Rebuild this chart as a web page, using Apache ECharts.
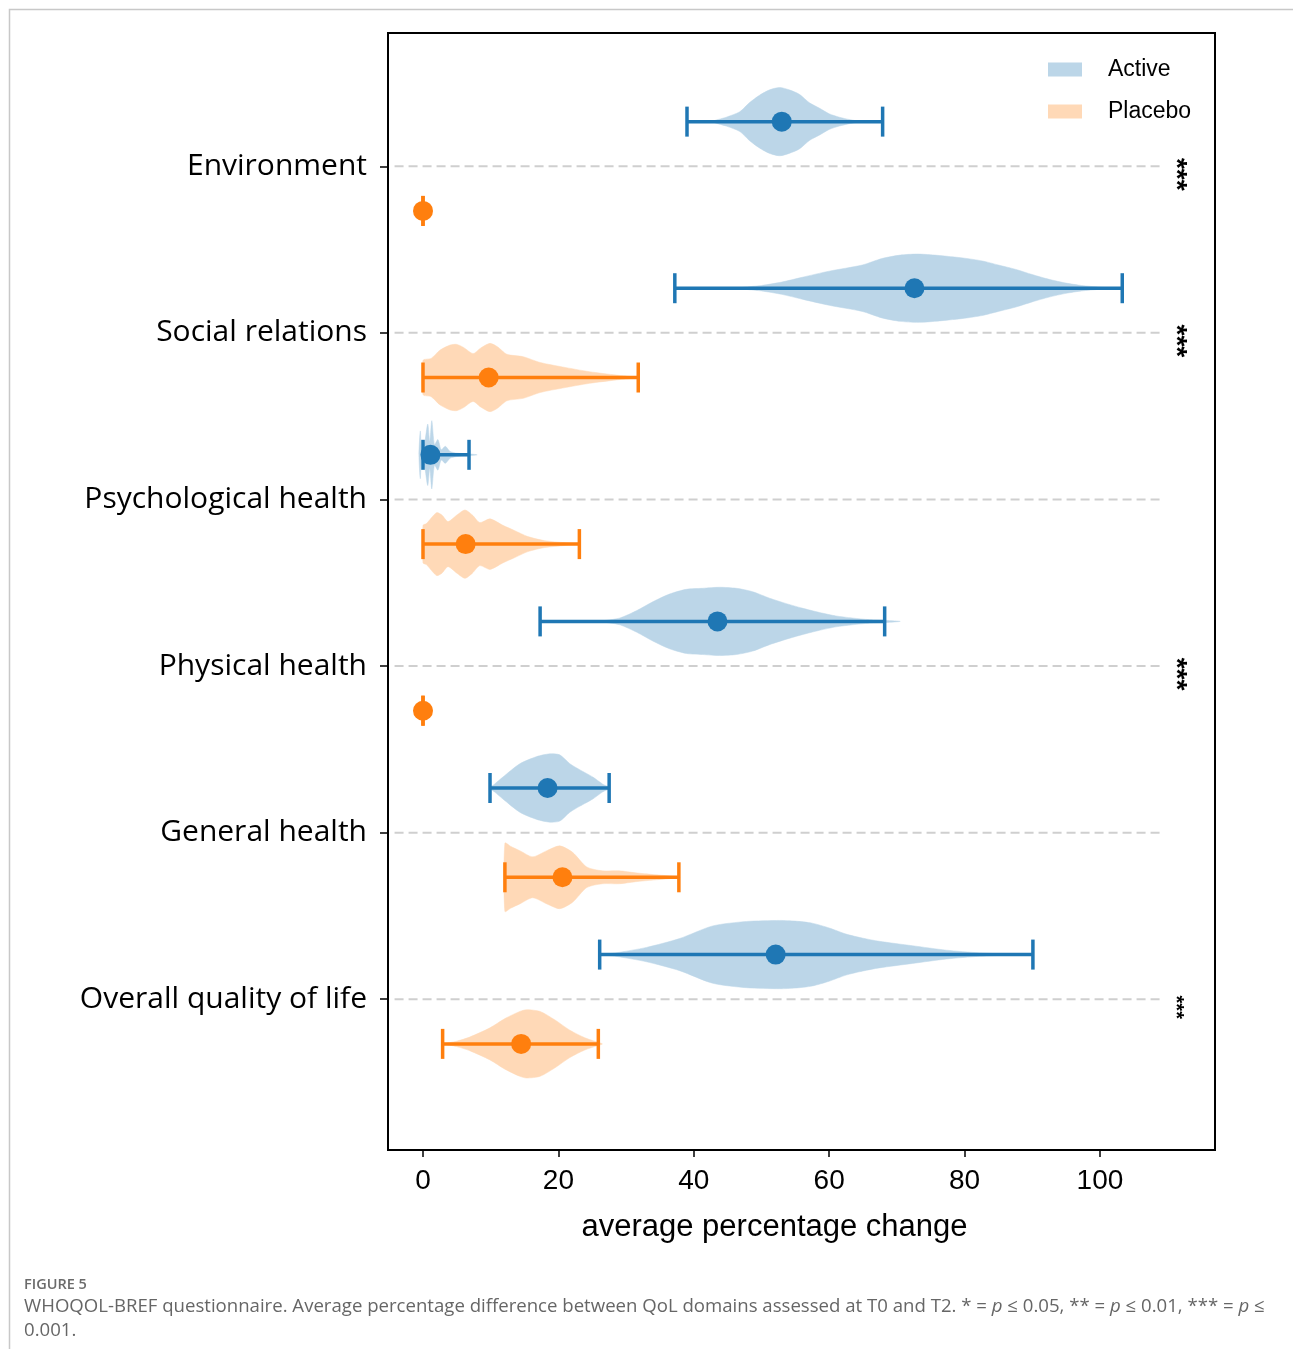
<!DOCTYPE html>
<html>
<head>
<meta charset="utf-8">
<script src="https://cdn.jsdelivr.net/npm/echarts@6/dist/echarts.min.js"></script>
<style>
html,body{margin:0;padding:0;background:#fff;}
#chart{width:1293px;height:1349px;}
</style>
</head>
<body>
<div id="chart"></div>
<script>
// ---------- data ----------
const categories = ['Environment', 'Social relations', 'Psychological health', 'Physical health', 'General health', 'Overall quality of life'];
const xTicks = [0, 20, 40, 60, 80, 100];

const activeMean = [53.0, 72.6, 1.1, 43.5, 18.4, 52.1];
const activeLow  = [39.0, 37.2, 0.0, 17.3, 9.9, 26.1];
const activeHigh = [67.9, 103.3, 6.8, 68.2, 27.5, 90.1];

const placeboMean = [0.0, 9.7, 6.3, 0.0, 20.6, 14.5];
const placeboLow  = [0.0, 0.0, 0.0, 0.0, 12.1, 2.9];
const placeboHigh = [0.0, 31.8, 23.1, 0.0, 37.8, 25.9];

const significance = ['***', '***', '', '***', '', '***'];

// violin outlines: [value, relative density]
const activeEnv = [[42.8,0],[44.8,0.13],[46.8,0.29],[48.2,0.55],[49.7,0.77],[51.2,0.93],[52.7,1.0],[54.1,0.93],[55.6,0.8],[57.1,0.55],[58.6,0.39],[60,0.23],[61.5,0.13],[63,0.06],[64.5,0]];
const activeSocial = [[46.5,0],[50,0.08],[53,0.18],[56,0.32],[60,0.5],[64.9,0.68],[67.8,0.87],[70.5,0.97],[72.9,1.0],[75,0.98],[77.7,0.93],[80,0.88],[82.6,0.8],[85,0.68],[87.6,0.55],[90,0.4],[92.5,0.26],[95,0.15],[97.3,0.08],[100,0.03],[102,0]];
const activePsych = [[-0.6,0],[-0.4,0.7],[-0.2,0.15],[0.2,0.3],[0.7,0.9],[1.0,0.4],[1.3,1.0],[1.7,0.3],[2.2,0.45],[2.7,0.15],[3.3,0.25],[4,0.1],[5,0.05],[6.5,0.03],[8,0]];
const activePhysical = [[25.5,0],[27,0.03],[29.1,0.1],[31.6,0.32],[34,0.58],[36.4,0.8],[38.9,0.94],[41.3,0.97],[43.8,1.0],[46.3,0.97],[48.7,0.87],[51.2,0.68],[53.7,0.52],[56,0.39],[58.6,0.26],[61,0.16],[63.4,0.1],[66,0.05],[68.4,0.03],[70.5,0]];
const activeGeneral = [[9.9,0],[10.6,0.12],[11.8,0.32],[14.3,0.71],[16.8,0.92],[18.7,1.0],[20.2,0.97],[21.7,0.71],[23.2,0.53],[25.1,0.32],[26.5,0.12],[27.6,0]];
const activeOverall = [[26.4,0],[28.5,0.05],[33,0.21],[37.9,0.47],[42.8,0.84],[47.8,0.97],[52.7,1.0],[55,0.98],[57.5,0.92],[60,0.78],[62.5,0.6],[65,0.48],[67.4,0.39],[72.3,0.26],[77.3,0.13],[82.2,0.05],[87,0.01],[88,0]];

const placeboSocial = [[0,0.5],[1.2,0.56],[2.5,0.8],[4,0.95],[5,0.97],[6,0.88],[7.4,0.7],[8.5,0.86],[9.9,1.0],[11,0.9],[12.4,0.68],[14.8,0.61],[17.3,0.44],[20.6,0.31],[24.6,0.17],[28.6,0.07],[31.6,0]];
const placeboPsych = [[0,0.55],[0.5,0.6],[2,0.92],[2.8,0.85],[3.7,0.66],[5,0.85],[6.2,1.0],[7.3,0.85],[8.4,0.63],[9.9,0.74],[11.8,0.55],[13.5,0.4],[15.5,0.22],[18,0.1],[21,0.04],[23,0]];
const placeboGeneral = [[12.1,1.0],[13,0.9],[14.3,0.78],[16.2,0.6],[18.3,0.78],[20.2,0.92],[22.1,0.73],[24.2,0.3],[26.5,0.19],[29,0.19],[31.4,0.13],[34,0.08],[36.4,0.04],[38,0]];
const placeboOverall = [[3.2,0],[5,0.08],[6.9,0.2],[9.9,0.47],[12.1,0.74],[14.3,0.95],[15.3,1.0],[17.3,0.95],[19.5,0.7],[21.7,0.4],[23.9,0.18],[25.8,0.05],[26.5,0]];

const activeProfiles = [activeEnv, activeSocial, activePsych, activePhysical, activeGeneral, activeOverall];
const placeboProfiles = [null, placeboSocial, placeboPsych, null, placeboGeneral, placeboOverall];

// ---------- style ----------
const BLUE = '#1f77b4', ORANGE = '#ff7f0e';
const BLUE_FILL = '#bcd6e8', ORANGE_FILL = '#ffd9b7';
const OFFSET = 0.268;     // vertical offset of each group from its row
const HALF = 0.205;       // violin half height at density 1
const CAP = 15;           // cap half length, px
const FONT_TXT = 'Liberation Sans';

function violinRender(profiles, side, fill) {
  return function (params, api) {
    const i = api.value(0);
    const prof = profiles[i];
    if (!prof) return;
    const pos = i + side * OFFSET;
    const top = prof.map(p => api.coord([p[0], pos - p[1] * HALF]));
    const bottom = [];
    for (let k = prof.length - 1; k >= 0; k--) {
      const p = prof[k];
      if (p[1] === 0 && (k === 0 || k === prof.length - 1)) continue;
      bottom.push(api.coord([p[0], pos + p[1] * HALF]));
    }
    return {
      type: 'polygon',
      shape: { points: top.concat(bottom), smooth: 0.25 },
      style: { fill: fill, stroke: fill, lineWidth: 0.5 }
    };
  };
}

function errRender(mean, lo, hi, side, color) {
  return function (params, api) {
    const i = api.value(0);
    const pos = i + side * OFFSET;
    const a = api.coord([lo[i], pos]);
    const b = api.coord([hi[i], pos]);
    const m = api.coord([mean[i], pos]);
    const st = { stroke: color, lineWidth: 3.5 };
    return {
      type: 'group',
      children: [
        { type: 'line', shape: { x1: a[0], y1: a[1], x2: b[0], y2: b[1] }, style: st },
        { type: 'line', shape: { x1: a[0], y1: a[1] - CAP, x2: a[0], y2: a[1] + CAP }, style: st },
        { type: 'line', shape: { x1: b[0], y1: b[1] - CAP, x2: b[0], y2: b[1] + CAP }, style: st },
        { type: 'circle', shape: { cx: m[0], cy: m[1], r: 10 }, style: { fill: color } }
      ]
    };
  };
}

const rowData = categories.map((c, i) => [i]);

const chart = echarts.init(document.getElementById('chart'), null, { renderer: 'canvas' });
chart.setOption({
  backgroundColor: '#fff',
  animation: false,
  grid: { left: 388, right: 78, top: 33, bottom: 199, show: true, borderColor: '#000', borderWidth: 2, containLabel: false },
  legend: {
    left: 1048, top: 58, padding: 0, orient: 'vertical', itemWidth: 34, itemHeight: 14, itemGap: 19,
    textStyle: { fontFamily: FONT_TXT, fontSize: 23, color: '#000', padding: [0, 0, 0, 21] },
    data: [
      { name: 'Active', icon: 'rect', itemStyle: { color: BLUE_FILL } },
      { name: 'Placebo', icon: 'rect', itemStyle: { color: ORANGE_FILL } }
    ]
  },
  xAxis: {
    type: 'value', min: -5.17, max: 117, position: 'bottom',
    axisLine: { show: true, onZero: false, lineStyle: { color: '#000', width: 2 } },
    axisTick: { show: true, customValues: xTicks, length: 7, lineStyle: { color: '#000', width: 1.5 } },
    axisLabel: { customValues: xTicks, fontFamily: FONT_TXT, fontSize: 28, color: '#000', margin: 17 },
    splitLine: { show: false },
    name: 'average percentage change', nameLocation: 'middle', nameGap: 62,
    nameTextStyle: { fontFamily: FONT_TXT, fontSize: 31, color: '#000', padding: [0, 54, 0, 0] }
  },
  yAxis: {
    type: 'value', inverse: true, min: -0.8, max: 5.905, position: 'left',
    axisLine: { show: true, onZero: false, lineStyle: { color: '#000', width: 2 } },
    axisTick: { show: true, customValues: [0, 1, 2, 3, 4, 5], length: 8, lineStyle: { color: '#000', width: 1.5 } },
    axisLabel: {
      customValues: [0, 1, 2, 3, 4, 5],
      formatter: v => categories[Math.round(v)],
      fontFamily: 'Open Sans', fontSize: 30, color: '#000', margin: 21
    },
    splitLine: { show: false }
  },
  graphic: [
    { type: 'rect', left: 7, top: 7, shape: { width: 1285, height: 1350 }, style: { fill: 'none', stroke: '#c8c8c8', lineWidth: 1.5 }, silent: true },
    { type: 'text', left: 24, top: 1277, style: { text: 'FIGURE 5', fontFamily: 'Open Sans', fontSize: 14.5, fontWeight: 600, fill: '#6b6b6b' } },
    { type: 'text', left: 24, top: 1297, style: {
        text: 'WHOQOL-BREF questionnaire. Average percentage difference between QoL domains assessed at T0 and T2. * = {i|p} ≤ 0.05, ** = {i|p} ≤ 0.01, *** = {i|p} ≤',
        fontFamily: 'Open Sans', fontSize: 18.6, fill: '#666',
        rich: { i: { fontStyle: 'italic', fontFamily: 'Open Sans', fontSize: 18.6, fill: '#666' } }
    } },
    { type: 'text', left: 24, top: 1321, style: { text: '0.001.', fontFamily: 'Open Sans', fontSize: 18.6, fill: '#666' } }
  ],
  series: [
    {
      type: 'custom', name: 'rows', data: rowData, z: 1, silent: true,
      renderItem: function (params, api) {
        const i = api.value(0);
        const a = api.coord([-4.2, i]);
        const b = api.coord([109, i]);
        return { type: 'line', shape: { x1: a[0], y1: a[1], x2: b[0], y2: b[1] },
          style: { stroke: '#cfcfcf', lineWidth: 2, lineDash: [9, 5] } };
      }
    },
    {
      type: 'custom', name: 'Active', data: rowData, z: 2, silent: true,
      itemStyle: { color: BLUE_FILL },
      renderItem: violinRender(activeProfiles, -1, BLUE_FILL)
    },
    {
      type: 'custom', name: 'Placebo', data: rowData, z: 2, silent: true,
      itemStyle: { color: ORANGE_FILL },
      renderItem: violinRender(placeboProfiles, 1, ORANGE_FILL)
    },
    {
      type: 'custom', name: 'Active mean', data: rowData, z: 3, silent: true,
      renderItem: errRender(activeMean, activeLow, activeHigh, -1, BLUE)
    },
    {
      type: 'custom', name: 'Placebo mean', data: rowData, z: 3, silent: true,
      renderItem: errRender(placeboMean, placeboLow, placeboHigh, 1, ORANGE)
    },
    {
      type: 'custom', name: 'significance', data: rowData, z: 4, silent: true,
      renderItem: function (params, api) {
        const i = api.value(0);
        const s = significance[i];
        if (!s) return;
        const p = api.coord([111.2, i]);
        return { type: 'text', x: p[0], y: p[1] + 8, rotation: -Math.PI / 2,
          style: { text: s, fontFamily: FONT_TXT, fontWeight: 'bold', fontSize: i === 5 ? 20 : 28, fill: '#000', align: 'center', verticalAlign: 'middle' } };
      }
    }
  ]
});
</script>
</body>
</html>
